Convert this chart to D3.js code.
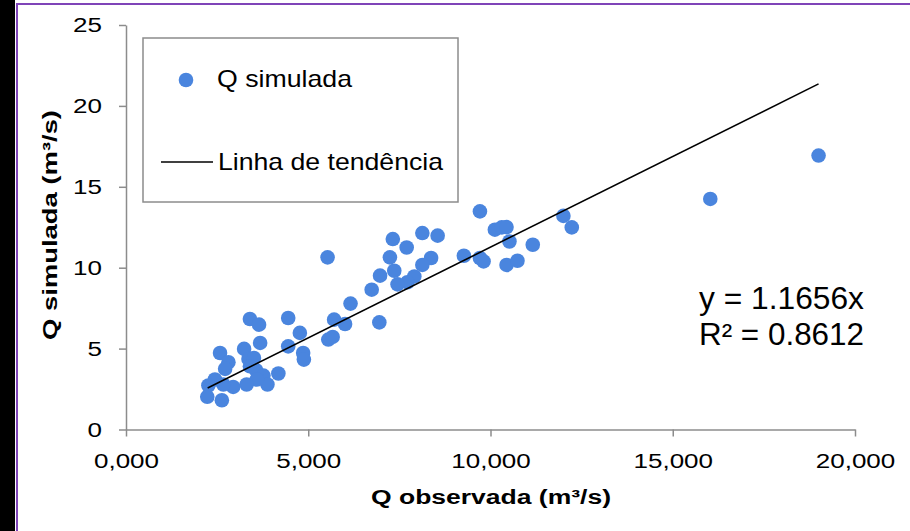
<!DOCTYPE html>
<html>
<head>
<meta charset="utf-8">
<script src="https://cdn.jsdelivr.net/npm/d3@7/dist/d3.min.js"></script>
<style>
body { margin: 0; background: #fff; }
svg { display: block; font-family: "Liberation Sans", Arial, sans-serif; }
</style>
</head>
<body>
<script>
var qObservada = [16.03, 19.0, 9.71, 12.0, 12.23, 10.12, 10.31, 10.44, 10.52, 11.16,
    10.44, 10.74, 9.27, 9.71, 9.81, 8.13, 8.55, 7.32, 7.70, 7.24,
    8.37, 8.13, 5.53, 7.36, 6.97, 7.91, 7.72, 7.45, 6.74, 6.16,
    5.71, 6.01, 6.95, 5.55, 5.67, 4.77, 4.86, 4.88, 4.45, 3.40,
    3.65, 4.45, 3.68, 3.24, 2.58, 2.81, 2.72, 3.36, 3.51, 3.40,
    3.57, 3.77, 3.88, 4.18, 3.59, 3.31, 2.94, 2.67, 2.44, 2.26,
    2.23, 2.63];
var qSimulada = [14.25, 16.93, 13.48, 13.2, 12.49, 12.35, 12.49, 12.51, 11.62, 11.42,
    10.17, 10.43, 10.74, 10.6, 10.39, 12.14, 11.98, 11.77, 11.25, 10.64,
    10.6, 10.17, 10.64, 9.81, 9.51, 9.46, 9.1, 8.97, 8.64, 7.78,
    6.79, 6.52, 6.62, 5.56, 5.72, 5.97, 4.73, 4.32, 5.14, 6.83,
    6.48, 6.89, 5.35, 4.98, 4.73, 4.16, 3.75, 4.36, 4.42, 3.91,
    3.66, 3.33, 2.78, 3.46, 3.09, 2.78, 2.63, 2.78, 3.09, 2.72,
    2.02, 1.81];

//trend line end points
var trendX = [2.24, 19.0],
    trendY = [2.57, 21.36];

//axis ticks
var xTicks = [0, 5, 10, 15, 20],
    xTickLabels = ["0,000", "5,000", "10,000", "15,000", "20,000"];
var yTicks = [0, 5, 10, 15, 20, 25],
    yTickLabels = ["0", "5", "10", "15", "20", "25"];

var legendLabels = ["Q simulada", "Linha de tendência"];
var equationLines = ["y = 1.1656x", "R² = 0.8612"];

function setChart(){
    var width = 910,
        height = 531;

    var svg = d3.select("body")
        .append("svg")
        .attr("width", width)
        .attr("height", height);

    //dark strip + purple frame on the left/top
    svg.append("rect")
        .attr("x", 0).attr("y", 0)
        .attr("width", 15).attr("height", height)
        .attr("fill", "#000");
    svg.append("path")
        .attr("d", "M17," + height + "V4H" + width)
        .attr("fill", "none")
        .attr("stroke", "#7f44b8")
        .attr("stroke-width", 2);

    //scales
    var x = d3.scaleLinear()
        .domain([0, 20])
        .range([126, 855]);
    var y = d3.scaleLinear()
        .domain([0, 25])
        .range([429.5, 25]);

    //y axis
    var yAxis = svg.append("g")
        .attr("transform", "translate(" + x(0) + ",0)")
        .call(d3.axisLeft(y)
            .tickValues(yTicks)
            .tickFormat(function(d, i){ return yTickLabels[i]; })
            .tickSize(7)
            .tickSizeOuter(0));
    yAxis.selectAll("text")
        .attr("x", 0)
        .attr("transform", "translate(-24,0) scale(1.24,1)")
        .attr("font-size", 21)
        .attr("font-family", "Liberation Sans, Arial, sans-serif")
        .attr("fill", "#000");

    //x axis
    var xAxis = svg.append("g")
        .attr("transform", "translate(0," + y(0) + ")")
        .call(d3.axisBottom(x)
            .tickValues(xTicks)
            .tickFormat(function(d, i){ return xTickLabels[i]; })
            .tickSize(7)
            .tickSizeOuter(0));
    xAxis.selectAll("text")
        .attr("y", 24)
        .attr("transform", "scale(1.24,1)")
        .attr("font-size", 21)
        .attr("font-family", "Liberation Sans, Arial, sans-serif")
        .attr("fill", "#000");

    svg.selectAll(".domain, .tick line")
        .attr("stroke", "#8c8c8c")
        .attr("stroke-width", 1.5);

    //points
    var points = qObservada.map(function(d, i){ return [d, qSimulada[i]]; });
    svg.selectAll(".pt")
        .data(points)
        .enter()
        .append("circle")
        .attr("class", "pt")
        .attr("cx", function(d){ return x(d[0]); })
        .attr("cy", function(d){ return y(d[1]); })
        .attr("r", 7.3)
        .attr("fill", "#4a85de");

    //trend line
    svg.append("line")
        .attr("x1", x(trendX[0])).attr("y1", y(trendY[0]))
        .attr("x2", x(trendX[1])).attr("y2", y(trendY[1]))
        .attr("stroke", "#000")
        .attr("stroke-width", 1.6);

    //equation
    svg.selectAll(".eq")
        .data(equationLines)
        .enter()
        .append("text")
        .attr("class", "eq")
        .attr("x", 699)
        .attr("y", function(d, i){ return 309 + i * 36; })
        .attr("font-size", 31)
        .attr("textLength", 165)
        .attr("lengthAdjust", "spacingAndGlyphs")
        .text(function(d){ return d; });

    //legend
    var legend = svg.append("g");
    legend.append("rect")
        .attr("x", 143).attr("y", 38)
        .attr("width", 315).attr("height", 164)
        .attr("fill", "#fff")
        .attr("stroke", "#8c8c8c")
        .attr("stroke-width", 1.5);
    legend.append("circle")
        .attr("cx", 186).attr("cy", 80)
        .attr("r", 7.3)
        .attr("fill", "#4a85de");
    legend.append("text")
        .attr("x", 217).attr("y", 87)
        .attr("font-size", 24)
        .attr("textLength", 135)
        .attr("lengthAdjust", "spacingAndGlyphs")
        .text(legendLabels[0]);
    legend.append("line")
        .attr("x1", 161).attr("x2", 213)
        .attr("y1", 162).attr("y2", 162)
        .attr("stroke", "#000")
        .attr("stroke-width", 1.6);
    legend.append("text")
        .attr("x", 218).attr("y", 170)
        .attr("font-size", 24)
        .attr("textLength", 225)
        .attr("lengthAdjust", "spacingAndGlyphs")
        .text(legendLabels[1]);

    //axis titles
    svg.append("text")
        .attr("x", 491).attr("y", 504)
        .attr("text-anchor", "middle")
        .attr("font-size", 20)
        .attr("font-weight", "bold")
        .attr("textLength", 240)
        .attr("lengthAdjust", "spacingAndGlyphs")
        .text("Q observada (m³/s)");
    svg.append("text")
        .attr("transform", "translate(57,225) rotate(-90)")
        .attr("text-anchor", "middle")
        .attr("font-size", 21)
        .attr("font-weight", "bold")
        .attr("textLength", 230)
        .attr("lengthAdjust", "spacingAndGlyphs")
        .text("Q simulada (m³/s)");
};

setChart();
</script>
</body>
</html>
